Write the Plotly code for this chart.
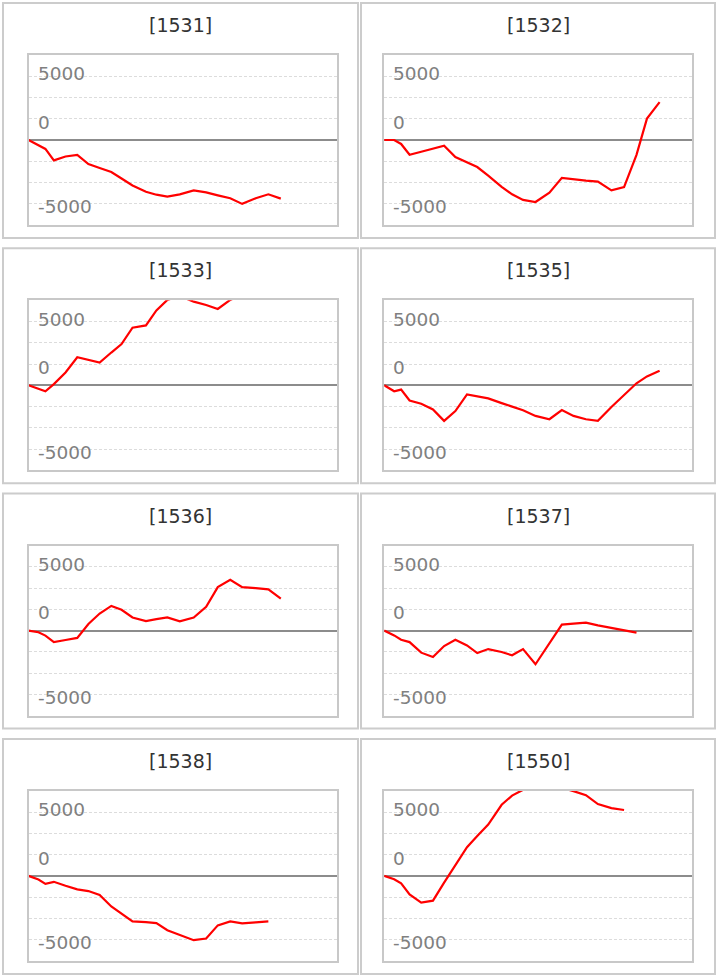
import plotly.graph_objects as go

# ---------------- data ----------------
codes = ["1531", "1532", "1533", "1535", "1536", "1537", "1538", "1550"]

# shared sample positions
x_pos = [0, 0.855, 1.453, 2.179, 3.179, 4.188, 5.145, 6.111, 7.111, 7.991,
         8.932, 10.085, 10.983, 11.923, 12.991, 14.188, 15.256, 16.256,
         17.325, 18.350, 19.513, 20.598, 21.667, 22.564, 23.650]
x_max = 26.45

v1531 = [0, -440, -700, -1600, -1290, -1160, -1890, -2200, -2510, -3020, -3570,
         -4060, -4290, -4440, -4260, -3950, -4110, -4340, -4570, -5010, -4570,
         -4260, -4600]
v1532 = [0, 0, -310, -1160, -920, -670, -440, -1340, -1780, -2120, -2790, -3670,
         -4260, -4700, -4860, -4130, -2970, -3100, -3180, -3260, -3950, -3700,
         -1160, 1680, 2970]
v1533 = [0, -260, -465, 90, 1010, 2200, 2000, 1780, 2570, 3230, 4520, 4700,
         5870, 6700, 7000, 6560, 6300, 5990, 6700, 7100, 7300, 7200, 7400]
v1535 = [0, -465, -336, -1190, -1450, -1890, -2790, -2020, -720, -880, -1030,
         -1400, -1670, -1960, -2400, -2660, -1940, -2400, -2660, -2790, -1700,
         -750, 155, 700, 1140]
v1536 = [0, -130, -390, -900, -740, -570, 520, 1340, 1940, 1630, 1030, 750,
         900, 1030, 720, 1030, 1860, 3410, 3980, 3410, 3330, 3230, 2510]
v1537 = [0, -380, -720, -900, -1730, -2070, -1210, -720, -1160, -1760, -1450,
         -1680, -1940, -1450, -2640, -970, 465, 540, 620, 410, 210, 0, -155]
v1538 = [0, -280, -620, -465, -775, -1060, -1190, -1500, -2400, -3000, -3570,
         -3630, -3700, -4260, -4600, -5040, -4910, -3880, -3570, -3720, -3640,
         -3570]
v1550 = [0, -260, -590, -1450, -2090, -1940, -530, 850, 2250, 3130, 4030, 5580,
         6300, 6750, 7000, 7100, 6900, 6650, 6330, 5630, 5320, 5170]

series = [v1531, v1532, v1533, v1535, v1536, v1537, v1538, v1550]

y_step = 5000 / 3
y_max = 4 * y_step
grid_vals = [k * y_step for k in range(-3, 4)]
label_text = ["5000", "0", "-5000"]
label_vals = [5000, y_step, -5000]

# ---------------- layout geometry (pixels) ----------------
W, H = 718, 976
ROW_STEP = 245.3
COL_BOX = [(2, 359), (360, 716)]
COL_PLOT = [(28.5, 336.5), (384.2, 692.2)]
BOX_Y = (2, 239)
PLOT_Y = (55, 225)
TITLE_Y = 25
LABEL_SHIFT = [2.5, -3.5, -3.0]
FONT = "DejaVu Sans"

def px(xv):
    return xv / W

def py(yv):
    return 1 - yv / H

fig = go.Figure()
shapes = []
annotations = []
layout_axes = {}

for i, (code, vals) in enumerate(zip(codes, series)):
    r, c = divmod(i, 2)
    base = r * ROW_STEP
    n = i + 1
    xa = "x" if n == 1 else f"x{n}"
    ya = "y" if n == 1 else f"y{n}"
    xkey = "xaxis" if n == 1 else f"xaxis{n}"
    ykey = "yaxis" if n == 1 else f"yaxis{n}"

    fig.add_trace(go.Scatter(
        x=x_pos[:len(vals)], y=vals, mode="lines",
        line=dict(color="#ff0000", width=2.2),
        xaxis=xa, yaxis=ya, showlegend=False, hoverinfo="skip"))

    x0, x1 = COL_PLOT[c]
    layout_axes[xkey] = dict(
        domain=[px(x0), px(x1)], range=[0, x_max], anchor=ya,
        showgrid=False, zeroline=False, showticklabels=False, ticks="",
        showline=True, mirror=True, linecolor="#c8c8c8", linewidth=2,
        fixedrange=True)
    layout_axes[ykey] = dict(
        domain=[py(PLOT_Y[1] + base), py(PLOT_Y[0] + base)],
        range=[-y_max, y_max], anchor=xa,
        tickmode="array", tickvals=grid_vals, showticklabels=False, ticks="",
        showgrid=True, gridcolor="#dcdcdc", gridwidth=1, griddash="3px,2px",
        zeroline=True, zerolinecolor="#8c8c8c", zerolinewidth=2,
        showline=True, mirror=True, linecolor="#c8c8c8", linewidth=2,
        fixedrange=True)

    # panel box
    bx0, bx1 = COL_BOX[c]
    shapes.append(dict(
        type="rect", xref="paper", yref="paper",
        x0=px(bx0 + 1), x1=px(bx1 - 1),
        y0=py(BOX_Y[1] + base - 1), y1=py(BOX_Y[0] + base + 1),
        line=dict(color="#cccccc", width=2), fillcolor="rgba(0,0,0,0)",
        layer="below"))

    # title
    annotations.append(dict(
        text=f"[{code}]", xref="paper", yref="paper",
        x=px((bx0 + bx1) / 2), y=py(TITLE_Y + base),
        xanchor="center", yanchor="middle", showarrow=False,
        font=dict(family=FONT, size=19, color="#333333")))

    # y labels inside the plot
    for t, v, s in zip(label_text, label_vals, LABEL_SHIFT):
        annotations.append(dict(
            text=t, xref=f"{xa} domain", yref=ya, x=0, y=v,
            xanchor="left", yanchor="middle", xshift=7, yshift=s,
            showarrow=False,
            font=dict(family=FONT, size=18.5, color="#808080")))

fig.update_layout(
    width=W, height=H, margin=dict(l=0, r=0, t=0, b=0),
    paper_bgcolor="white", plot_bgcolor="white",
    shapes=shapes, annotations=annotations, **layout_axes)

fig.write_html(
    "out.html",
    config={"displayModeBar": False, "staticPlot": True},
    post_script="document.body.style.margin='0';document.body.style.overflow='hidden';")
